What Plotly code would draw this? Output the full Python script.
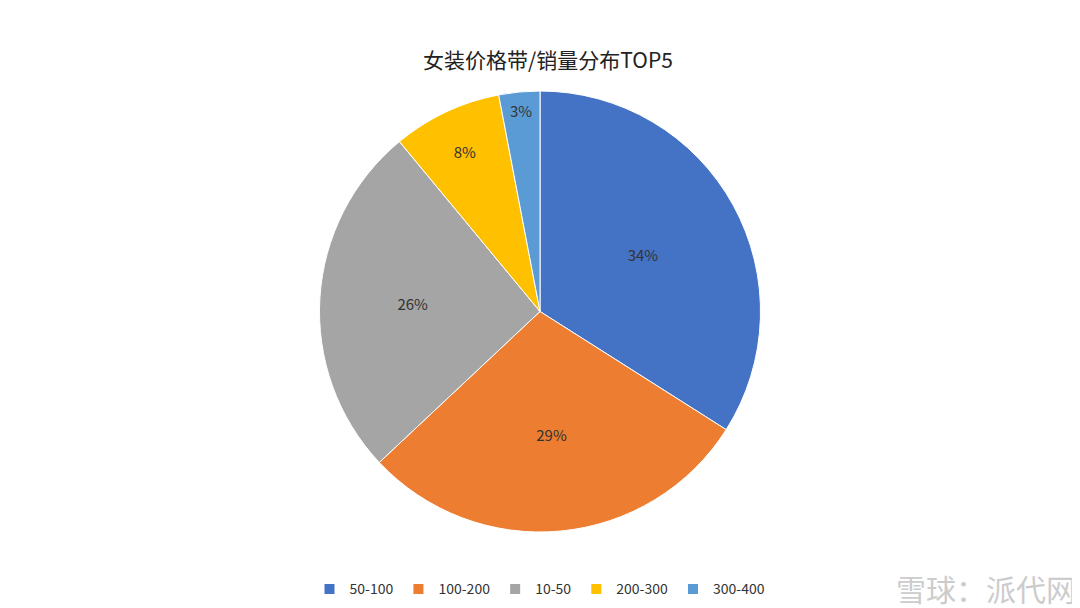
import plotly.graph_objects as go

labels = ["50-100", "100-200", "10-50", "200-300", "300-400"]
values = [34, 29, 26, 8, 3]
colors = ["#4472C4", "#ED7D31", "#A5A5A5", "#FFC000", "#5B9BD5"]

fig = go.Figure(go.Pie(
    labels=labels, values=values, sort=False, direction="clockwise", rotation=0,
    marker=dict(colors=colors, line=dict(color="white", width=1)),
    texttemplate="%{percent:.0%}", textposition="inside",
    insidetextorientation="horizontal",
    textfont=dict(size=15, color="#333333", family="Noto Sans CJK SC"),
    showlegend=True,
))
fig.update_layout(
    width=1080, height=608,
    margin=dict(t=83, b=84, l=0, r=16),
    paper_bgcolor="white",
    title=dict(text="女装价格带/销量分布TOP5", x=0.5, y=0.925, xanchor="center",
               font=dict(size=21, color="#222222", family="Noto Sans CJK SC")),
    legend=dict(orientation="h", x=0.5, xanchor="center", y=-0.13, yanchor="middle",
                font=dict(size=14, color="#333333", family="Noto Sans CJK SC"),
                itemsizing="constant"),
    annotations=[dict(text="雪球：派代网", x=1, y=0, xref="paper", yref="paper",
                      xanchor="right", yanchor="bottom", xshift=6, yshift=-80,
                      showarrow=False,
                      font=dict(size=30, color="#cccccc", family="Noto Sans CJK SC"))],
)
fig.write_html("out.html")
